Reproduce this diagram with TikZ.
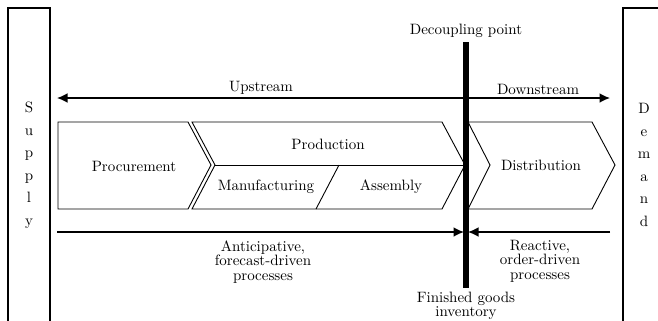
\documentclass[tikz,border=0pt]{standalone}
\usetikzlibrary{arrows.meta}
\begin{document}
\begin{tikzpicture}[x=0.6667pt,y=-0.6667pt,
  flow/.style={line width=1pt,-{Latex[length=7pt,width=6.5pt]}},
  stage/.style={line width=0.6pt,line join=miter},
  endbox/.style={line width=0.8pt},
  lbl/.style={inner sep=0pt,align=center},
  letters/.style={inner sep=0pt,align=center}]
\useasboundingbox (0,0) rectangle (658,320);
\clip (0,0) rectangle (658,320);

% Supply and demand end boxes (run past the lower edge)
\draw[endbox] (8,330) |- (50,8) -- (50,330);
\draw[endbox] (623,330) |- (670,8);
\node[letters] (supply) at (29,165) {S\\[3pt]u\\[3pt]p\\[3pt]p\\[3pt]l\\[3pt]y};
\node[letters] (demand) at (644,165) {D\\[3pt]e\\[3pt]m\\[3pt]a\\[3pt]n\\[3pt]d};

% Upstream / downstream arrow
\coordinate (upL) at (57,98);
\coordinate (upR) at (610,98);
\draw[line width=1pt,{Latex[length=7pt,width=6.5pt]}-{Latex[length=7pt,width=6.5pt]}] (upL) -- (upR);
\node[lbl] (upstream) at (261,88) {Upstream};
\node[lbl] (downstream) at (538,89) {Downstream};

% Process chevrons
\draw[stage] (58,122) -- (188,122) -- (211,165) -- (188,209) -- (58,209) -- cycle;
\draw[stage] (192,122) -- (442,122) -- (465,165) -- (442,209) -- (192,209) -- (215,165) -- cycle;
\draw[stage] (215,165) -- (465,165);
\draw[stage] (339,165) -- (316,209);
\draw[stage] (468,122) -- (592,122) -- (615,165) -- (592,209) -- (468,209) -- (490,165) -- cycle;

\node[lbl] (procurement) at (134,166) {Procurement};
\node[lbl] (production) at (328,144) {Production};
\node[lbl] (manufacturing) at (266,187) {Manufacturing};
\node[lbl] (assembly) at (391,187) {Assembly};
\node[lbl] (distribution) at (541,165) {Distribution};

% Push / pull arrows meeting at the decoupling point
\coordinate (pushS) at (57,232);
\coordinate (pushE) at (464,232);
\coordinate (pullS) at (610,232);
\coordinate (pullE) at (468,232);
\draw[flow] (pushS) -- (pushE);
\draw[flow] (pullS) -- (pullE);
\node[lbl] (push) at (263,262) {Anticipative,\\[-2.3pt]forecast-driven\\[-2.3pt]processes};
\node[lbl] (pull) at (540,261) {Reactive,\\[-2.3pt]order-driven\\[-2.3pt]processes};

% Decoupling point bar
\coordinate (dpT) at (466,42);
\coordinate (dpB) at (466,288);
\draw[line width=4pt] (dpT) -- (dpB);
\node[lbl] (dplabel) at (466,31) {Decoupling point};
\node[lbl] (fgi) at (466,306) {Finished goods\\[-2.3pt]inventory};
\end{tikzpicture}
\end{document}
